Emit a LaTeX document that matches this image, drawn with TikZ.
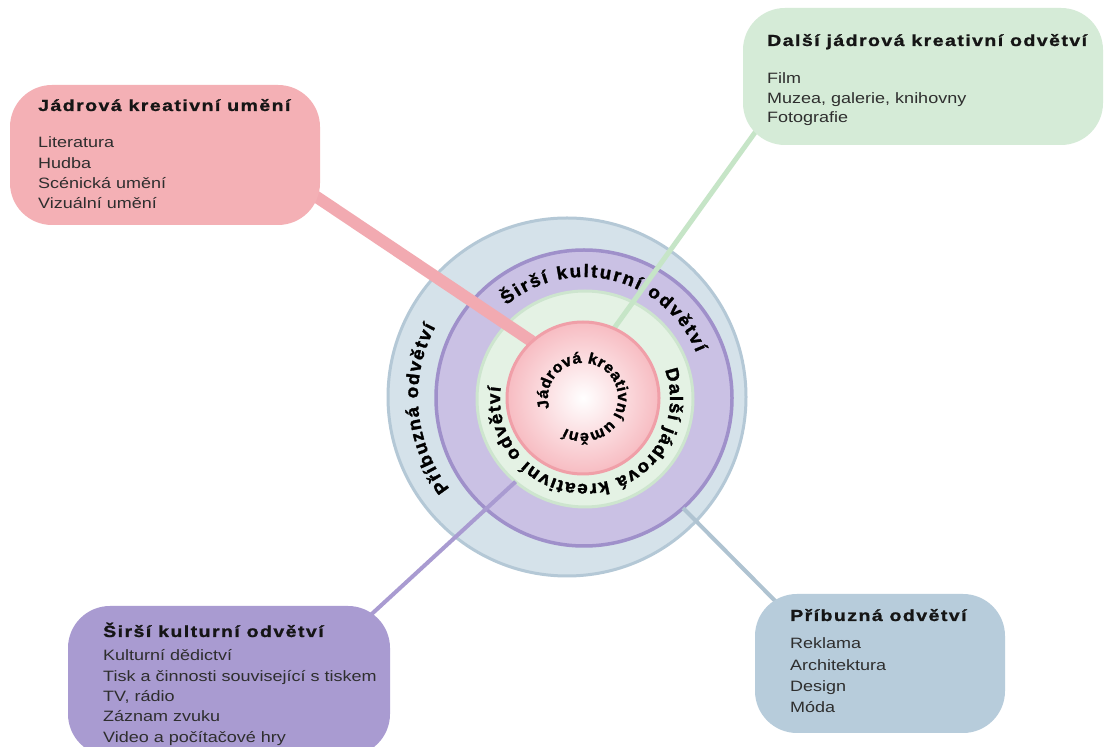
\documentclass[tikz,border=0pt]{standalone}
\usepackage{fontspec}
\setmainfont{Liberation Sans}
\newfontfamily\titlefont{Liberation Sans}[FakeStretch=1.22,LetterSpace=9,FakeBold=1.2]
\newfontfamily\itemfont{Liberation Sans}[FakeStretch=1.2]
\newfontfamily\ringfont{Liberation Sans}[FakeStretch=1.05,FakeBold=1.6]
\usetikzlibrary{decorations.text,calc}
\definecolor{bfill}{HTML}{D5E2EA}
\definecolor{bedge}{HTML}{B4C8D6}
\definecolor{pfill}{HTML}{CAC1E4}
\definecolor{pedge}{HTML}{9F90CA}
\definecolor{gfill}{HTML}{E4F2E4}
\definecolor{gedge}{HTML}{CDE5CE}
\definecolor{pinkring}{HTML}{F7BCC2}
\definecolor{pinkedge}{HTML}{F09FA8}
\definecolor{pinkbox}{HTML}{F4B0B5}
\definecolor{greenbox}{HTML}{D5EBD7}
\definecolor{purplebox}{HTML}{A99BD1}
\definecolor{bluebox}{HTML}{B7CCDB}
\definecolor{pinkline}{HTML}{F2AAB1}
\definecolor{greenline}{HTML}{C6E5C7}
\definecolor{purpleline}{HTML}{A99BD1}
\definecolor{blueline}{HTML}{AFC3D1}
\definecolor{ttlcol}{HTML}{151515}
\definecolor{itmcol}{HTML}{2E2E2E}
\newcommand\ringsz{\ringfont\bfseries\fontsize{18}{21}\selectfont}
\newcommand\ringszs{\ringfont\bfseries\fontsize{15.5}{18}\selectfont}
\pgfdeclarelayer{back}
\pgfdeclarelayer{mid}
\pgfsetlayers{back,mid,main}
\tikzset{
  ring/.style={circle, inner sep=0pt, outer sep=0pt, line width=3pt},
  boxstyle/.style={rectangle, rounded corners=42pt, inner sep=0pt, outer sep=0pt, draw=none},
  ttl/.style={anchor=base west, inner sep=0pt, text=ttlcol, font=\titlefont\bfseries\fontsize{16}{19}\selectfont},
  itm/.style={anchor=base west, inner sep=0pt, text=itmcol, font=\itemfont\fontsize{15}{18}\selectfont},
  conn/.style={line cap=butt},
  ringtext/.style={decorate, decoration={text along path, text align={fit to path}, text={#1}}}
}
\begin{document}
\begin{tikzpicture}[x=1pt,y=1pt]
\useasboundingbox (0,0) rectangle (1106,747);
\begin{pgfonlayer}{back}
  \fill[white] (0,0) rectangle (1106,747);
  \node[ring, minimum size=358pt, fill=bfill, draw=bedge] (ringB) at (567,350) {};
  \node[ring, minimum size=296pt, fill=pfill, draw=pedge, line width=3.5pt] (ringP) at (584,349) {};
  \node[ring, minimum size=216pt, fill=gfill, draw=gedge] (ringG) at (585,348) {};
\end{pgfonlayer}
\node[ring, minimum size=152pt, inner color=white, outer color=pinkring, draw=pinkedge] (pinkc) at (583,349) {};

% boxes
\node[boxstyle, anchor=north west, fill=pinkbox, minimum width=310pt, minimum height=140pt] (pinkB) at (10,662) {};
\node[boxstyle, anchor=north west, fill=greenbox, minimum width=360pt, minimum height=137pt] (greenB) at (743,739) {};
\node[boxstyle, anchor=north west, fill=purplebox, minimum width=322pt, minimum height=150pt] (purpleB) at (68,141) {};
\node[boxstyle, anchor=north west, fill=bluebox, minimum width=250pt, minimum height=139pt] (blueB) at (755,153) {};

% connectors
\begin{pgfonlayer}{mid}
  \draw[conn, pinkline, line width=12pt] ([shift={(-60,66)}]pinkB.south east) -- (pinkc.132);
  \draw[conn, greenline, line width=5pt] ([shift={(21,25)}]greenB.south west) -- (pinkc.66);
  \draw[conn, purpleline, line width=4pt] ([shift={(-40,-28)}]purpleB.north east) -- (ringG.230);
  \draw[conn, blueline, line width=4pt] ([shift={(45,-32)}]blueB.north west) -- (ringP.-48);
\end{pgfonlayer}

% ring texts
\path[ringtext={|\ringszs|Jádrová kreativní umění}] ([shift={(197:35)}]pinkc.center) arc[start angle=197, end angle=-120, radius=35];
\path[ringtext={|\ringsz|Širší kulturní odvětví}] ([shift={(130:121)}]ringP.center) arc[start angle=130, end angle=22, radius=121];
\path[ringtext={|\ringsz|Další jádrová kreativní odvětví}] ([shift={(20:85)}]ringG.center) arc[start angle=20, end angle=-188, radius=85];
\path[ringtext={|\ringsz|Příbuzná odvětví}] ([shift={(218:149)}]ringB.center) arc[start angle=218, end angle=152, radius=149];

% box texts
\node[ttl] (pinkT) at (38,636) {Jádrová kreativní umění};
\foreach \t [count=\i] in {Literatura, Hudba, Scénická umění, Vizuální umění}
  \node[itm] (pinkI\i) at (38,{599-20.3*(\i-1)}) {\t};

\node[ttl] (greenT) at (767,701) {Další jádrová kreativní odvětví};
\foreach \t [count=\i] in {Film, {Muzea, galerie, knihovny}, Fotografie}
  \node[itm] (greenI\i) at (767,{663-19.5*(\i-1)}) {\t};

\node[ttl] (purpleT) at (103,110) {Širší kulturní odvětví};
\foreach \t [count=\i] in {Kulturní dědictví, Tisk a činnosti související s tiskem, {TV, rádio}, Záznam zvuku, Video a počítačové hry}
  \node[itm] (purpleI\i) at (103,{86-20.3*(\i-1)}) {\t};

\node[ttl] (blueT) at (790,126) {Příbuzná odvětví};
\foreach \t [count=\i] in {Reklama, Architektura, Design, Móda}
  \node[itm] (blueI\i) at (790,{98-21.3*(\i-1)}) {\t};
\end{tikzpicture}
\end{document}
